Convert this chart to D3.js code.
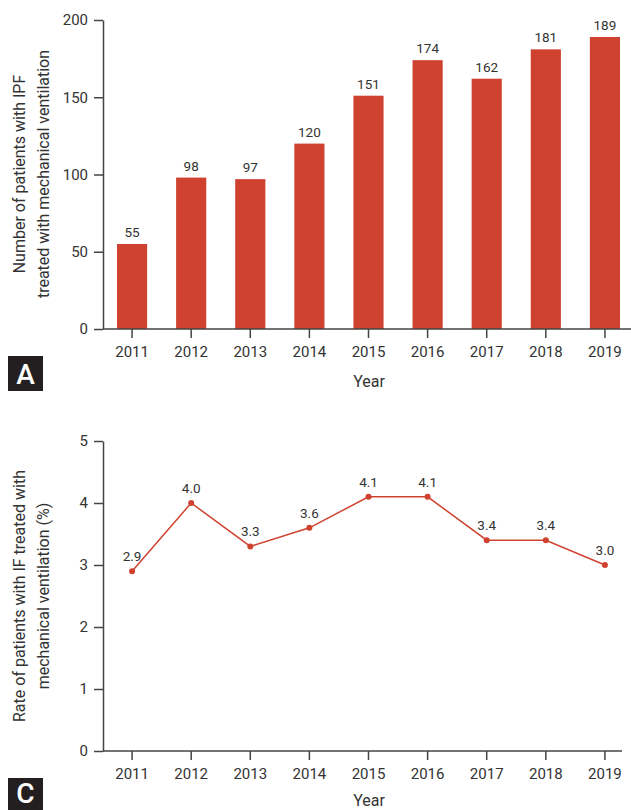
<!DOCTYPE html>
<html>
<head>
<meta charset="utf-8">
<script src="https://cdn.jsdelivr.net/npm/d3@7"></script>
<style>
  body { margin: 0; background: #fff; }
  svg { display: block; }
  text { font-family: Roboto, sans-serif; fill: #333; }
</style>
</head>
<body>
<svg id="chart" width="631" height="810"></svg>
<script>
// data
var years = ["2011", "2012", "2013", "2014", "2015", "2016", "2017", "2018", "2019"];
var patients = [55, 98, 97, 120, 151, 174, 162, 181, 189];
var rates = [2.9, 4.0, 3.3, 3.6, 4.1, 4.1, 3.4, 3.4, 3.0];
var countTicks = [0, 50, 100, 150, 200];
var rateTicks = [0, 1, 2, 3, 4, 5];

var red = "#d04230";
var axisColor = "#444";
var svg = d3.select("#chart");

var x = d3.scaleBand().domain(years).range([117, 620]).paddingInner(0.49).paddingOuter(0);

function styleAxis(g) {
    g.selectAll("path, line").attr("stroke", axisColor).attr("stroke-width", 1.5);
    g.selectAll("text").attr("fill", "#333").style("font-family", "Roboto, sans-serif").style("font-size", "15px");
}

function drawXAxis(g, y0, xEnd) {
    var ax = g.append("g")
        .attr("transform", "translate(0," + y0 + ")")
        .call(d3.axisBottom(x).tickSize(9).tickSizeOuter(0).tickPadding(8));
    ax.select(".domain").attr("d", "M103,0H" + xEnd); // axis line runs from y axis
    styleAxis(ax);
}

function yTitle(g, lines, cy) {
    var t = g.append("text")
        .attr("transform", "translate(30," + cy + ") rotate(-90)")
        .attr("text-anchor", "middle")
        .style("font-size", "16px");
    t.selectAll("tspan").data(lines).enter().append("tspan")
        .attr("x", 0)
        .attr("dy", function (d, i) { return i == 0 ? "-0.3em" : "1.5em"; })
        .text(function (d) { return d; });
}

function panelTag(g, label, y0, base) {
    g.append("rect").attr("x", 8).attr("y", y0).attr("width", 35).attr("height", 35).attr("fill", "#231f20");
    g.append("text").attr("x", 25.5).attr("y", y0 + base).attr("text-anchor", "middle")
        .style("font-size", "28px").style("font-weight", "500").style("fill", "#fff")
        .text(label);
}

// ---- panel A : bars ----
var gA = svg.append("g");
var yA = d3.scaleLinear().domain([0, 200]).range([329, 20]);

gA.selectAll("rect.bar").data(patients).enter()
    .append("rect")
    .attr("class", "bar")
    .attr("x", function (d, i) { return x(years[i]); })
    .attr("width", x.bandwidth())
    .attr("y", function (d) { return yA(d); })
    .attr("height", function (d) { return yA(0) - yA(d); })
    .attr("fill", red);

gA.selectAll("text.val").data(patients).enter()
    .append("text")
    .attr("class", "val")
    .attr("x", function (d, i) { return x(years[i]) + x.bandwidth() / 2; })
    .attr("y", function (d) { return yA(d) - 7; })
    .attr("text-anchor", "middle")
    .style("font-size", "13.5px")
    .text(function (d) { return d; });

var axA = gA.append("g").attr("transform", "translate(103,0)")
    .call(d3.axisLeft(yA).tickValues(countTicks).tickSize(9).tickSizeOuter(0).tickPadding(6));
styleAxis(axA);

drawXAxis(gA, 329, 631);
gA.append("text").attr("x", 369).attr("y", 387).attr("text-anchor", "middle").style("font-size", "16px").text("Year");
yTitle(gA, ["Number of patients with IPF", "treated with mechanical ventilation"], 174);
panelTag(gA, "A", 356, 28);

// ---- panel C : line ----
var gC = svg.append("g");
var yC = d3.scaleLinear().domain([0, 5]).range([751, 441]);
var cx = function (d, i) { return x(years[i]) + x.bandwidth() / 2; };

var line = d3.line().x(cx).y(function (d) { return yC(d); });
gC.append("path").datum(rates).attr("d", line)
    .attr("fill", "none").attr("stroke", red).attr("stroke-width", 1.5);

gC.selectAll("circle").data(rates).enter()
    .append("circle")
    .attr("cx", cx)
    .attr("cy", function (d) { return yC(d); })
    .attr("r", 3)
    .attr("fill", red);

gC.selectAll("text.val").data(rates).enter()
    .append("text")
    .attr("class", "val")
    .attr("x", cx)
    .attr("y", function (d) { return yC(d) - 10; })
    .attr("text-anchor", "middle")
    .style("font-size", "13.5px")
    .text(function (d) { return d.toFixed(1); });

var axC = gC.append("g").attr("transform", "translate(103,0)")
    .call(d3.axisLeft(yC).tickValues(rateTicks).tickFormat(d3.format("d")).tickSize(9).tickSizeOuter(0).tickPadding(6));
styleAxis(axC);

drawXAxis(gC, 751, 622);
gC.append("text").attr("x", 369).attr("y", 806).attr("text-anchor", "middle").style("font-size", "16px").text("Year");
yTitle(gC, ["Rate of patients with IF treated with", "mechanical ventilation (%)"], 596);
panelTag(gC, "C", 778, 25);
</script>
</body>
</html>
